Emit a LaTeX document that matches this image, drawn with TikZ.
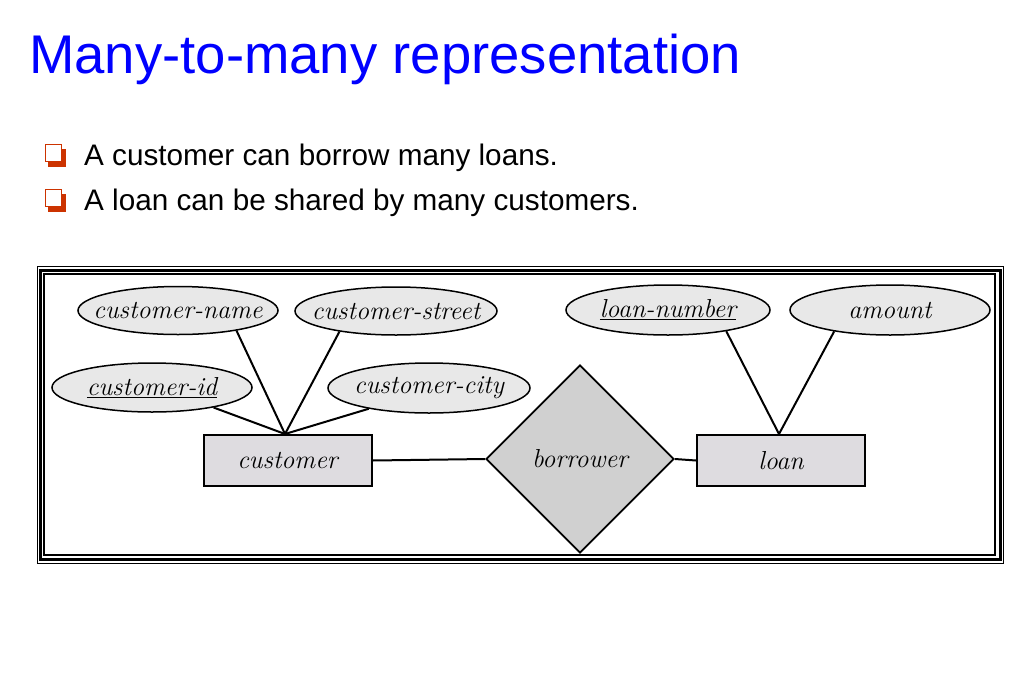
\documentclass[tikz,border=0pt]{standalone}
\usepackage{fontspec}
\newfontfamily\slidefont{Liberation Sans}
\usetikzlibrary{shapes.geometric}

\definecolor{titleblue}{HTML}{0000FF}
\definecolor{bulletred}{HTML}{CC3300}
\definecolor{attrfill}{HTML}{E8E8E8}
\definecolor{entfill}{HTML}{DEDCE0}
\definecolor{relfill}{HTML}{D0D0D0}

% italic serif used inside the E-R diagram
\newcommand\erfont{\fontsize{26}{30}\selectfont\itshape}

\begin{document}
\begin{tikzpicture}[x=1pt, y=-1pt,
  attr/.style={ellipse, draw, line width=1.5pt, fill=attrfill, inner sep=0pt,
               label={[font=\erfont, inner sep=0pt]center:#1}},
  entity/.style={rectangle, draw, line width=2pt, fill=entfill, inner sep=0pt,
                 minimum width=168pt, minimum height=51pt, font=\erfont},
  rel/.style={diamond, draw, line width=1.8pt, fill=relfill, inner sep=0pt,
              minimum width=188pt, minimum height=188pt, font=\erfont},
  link/.style={line width=2pt},
  slidetext/.style={anchor=base west, inner sep=0pt, font=\slidefont\fontsize{29.7}{35}\selectfont},
  bulletshade/.style={rectangle, fill=bulletred, inner sep=0pt, minimum size=18pt},
  bulletbox/.style={rectangle, draw=bulletred, line width=1pt, fill=white, inner sep=0pt, minimum size=16.3pt}
]
\useasboundingbox (0,0) rectangle (1026,678);
\fill[white] (0,0) rectangle (1026,678);

% heading
\node[anchor=base west, inner sep=0pt, text=titleblue,
      font=\slidefont\fontsize{54.5}{66}\selectfont] (title) at (29,73.3) {Many-to-many representation};

% bullet points
\node[bulletshade] (shade1) at (57,157.5) {};
\node[bulletbox] (box1) at (53.4,153) {};
\node[slidetext] (point1) at (84,165.5) {A customer can borrow many loans.};
\node[bulletshade] (shade2) at (57,202.5) {};
\node[bulletbox] (box2) at (53.4,198) {};
\node[slidetext] (point2) at (84,210.5) {A loan can be shared by many customers.};

% triple frame around the diagram
\draw[line width=1.3pt] (37.3,266.7) rectangle (1003.3,563.3);
\draw[line width=3.3pt] (40.7,270.5) rectangle (1000.3,559.5);
\draw[line width=1.3pt] (44,274) rectangle (995,555);

% attributes (the name sits in a centred label so it does not widen the ellipse)
\node[attr={customer-name},           minimum width=200pt, minimum height=48pt] (cname)   at (178,310.5) {};
\node[attr={customer-street},         minimum width=202pt, minimum height=48pt] (cstreet) at (396,311)   {};
\node[attr={\underline{customer-id}}, minimum width=200pt, minimum height=49pt] (cid)     at (152,387.5) {};
\node[attr={customer-city},           minimum width=202pt, minimum height=50pt] (ccity)   at (429,388)   {};
\node[attr={\underline{loan-number}}, minimum width=204pt, minimum height=50pt] (lnum)    at (668,310)   {};
\node[attr={amount},                  minimum width=200pt, minimum height=50pt] (amount)  at (890,310)   {};

% entities and relationship
\node[entity] (customer) at (287.5,460.5) {customer};
\node[entity] (loan)     at (781,460.5)   {loan};
\node[rel]    (borrower) at (580,459)     {borrower};

% connectors
\draw[link] (cname.-19)   -- ([xshift=-2.5pt]customer.north);
\draw[link] (cstreet.200) -- ([xshift=-2.5pt]customer.north);
\draw[link] (cid.-18)     -- ([xshift=-2.5pt]customer.north);
\draw[link] (ccity.199)   -- ([xshift=-2.5pt]customer.north);
\draw[link] (lnum.-20)    -- ([xshift=-2pt]loan.north);
\draw[link] (amount.201)  -- ([xshift=-2pt]loan.north);
\draw[link] (customer.east) -- (borrower.west);
\draw[link] (borrower.east) -- (loan.west);
\end{tikzpicture}
\end{document}
